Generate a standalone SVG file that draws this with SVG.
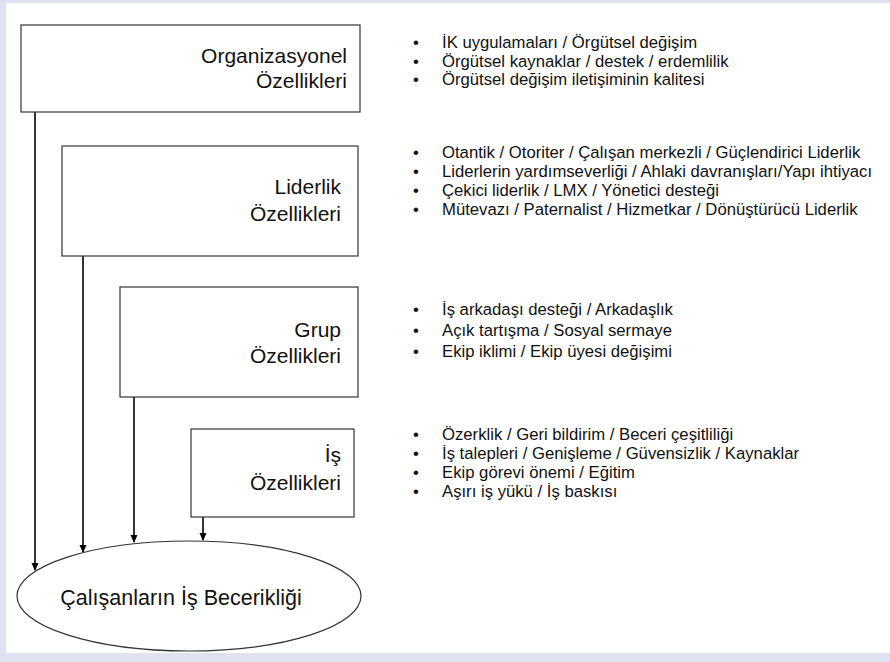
<svg xmlns="http://www.w3.org/2000/svg" width="890" height="662" viewBox="0 0 890 662">
<style>
.box{fill:#fff;stroke:#333;stroke-width:1.2}
.lbl{font-family:"Liberation Sans",Arial,sans-serif;font-size:21px;fill:#111;text-anchor:end}
.blt{font-family:"Liberation Sans",Arial,sans-serif;font-size:16.7px;fill:#111}
.con{stroke:#000;stroke-width:1.6;fill:none;marker-end:url(#ah)}
</style>
<defs>
<marker id="ah" markerWidth="8" markerHeight="8" refX="7" refY="4" orient="auto" markerUnits="userSpaceOnUse">
<path d="M0,0.5 L8,4 L0,7.5 Z" fill="#000"/>
</marker>
</defs>
<rect x="0" y="0" width="890" height="662" fill="#dfe3f1"/>
<rect x="6" y="3" width="884" height="650" fill="#fff"/>
<g id="connectors">
<line class="con" x1="35" y1="112" x2="35" y2="570"/>
<line class="con" x1="83" y1="256" x2="83" y2="552"/>
<line class="con" x1="134" y1="397" x2="134" y2="542"/>
<line class="con" x1="203" y1="517" x2="203" y2="540"/>
</g>
<g id="org">
<rect class="box" x="21" y="25" width="339" height="87"/>
<text class="lbl" x="347" y="63">Organizasyonel</text>
<text class="lbl" x="347" y="88">Özellikleri</text>
</g>
<g id="lider">
<rect class="box" x="62" y="146" width="296" height="110"/>
<text class="lbl" x="341" y="194">Liderlik</text>
<text class="lbl" x="341" y="221">Özellikleri</text>
</g>
<g id="grup">
<rect class="box" x="120" y="287" width="238" height="110"/>
<text class="lbl" x="341" y="337">Grup</text>
<text class="lbl" x="341" y="363">Özellikleri</text>
</g>
<g id="is">
<rect class="box" x="191" y="429" width="163" height="88"/>
<text class="lbl" x="341" y="462">İş</text>
<text class="lbl" x="341" y="490">Özellikleri</text>
</g>
<g id="ellipse">
<ellipse cx="189" cy="596" rx="172" ry="55" fill="#fff" stroke="#333" stroke-width="1.2"/>
<text class="lbl" x="181" y="605" style="text-anchor:middle;font-size:21.5px">Çalışanların İş Becerikliği</text>
</g>
<g id="list-org" class="blt">
<text x="413" y="48">•</text><text x="442" y="48">İK uygulamaları / Örgütsel değişim</text>
<text x="413" y="66.5">•</text><text x="442" y="66.5">Örgütsel kaynaklar / destek / erdemlilik</text>
<text x="413" y="85">•</text><text x="442" y="85">Örgütsel değişim iletişiminin kalitesi</text>
</g>
<g id="list-lider" class="blt">
<text x="413" y="158">•</text><text x="442" y="158">Otantik / Otoriter / Çalışan merkezli / Güçlendirici Liderlik</text>
<text x="413" y="177">•</text><text x="442" y="177">Liderlerin yardımseverliği / Ahlaki davranışları/Yapı ihtiyacı</text>
<text x="413" y="196">•</text><text x="442" y="196">Çekici liderlik / LMX / Yönetici desteği</text>
<text x="413" y="215">•</text><text x="442" y="215">Mütevazı / Paternalist / Hizmetkar / Dönüştürücü Liderlik</text>
</g>
<g id="list-grup" class="blt">
<text x="413" y="315">•</text><text x="442" y="315">İş arkadaşı desteği / Arkadaşlık</text>
<text x="413" y="336">•</text><text x="442" y="336">Açık tartışma / Sosyal sermaye</text>
<text x="413" y="357">•</text><text x="442" y="357">Ekip iklimi / Ekip üyesi değişimi</text>
</g>
<g id="list-is" class="blt">
<text x="413" y="440">•</text><text x="442" y="440">Özerklik / Geri bildirim / Beceri çeşitliliği</text>
<text x="413" y="459">•</text><text x="442" y="459">İş talepleri / Genişleme / Güvensizlik / Kaynaklar</text>
<text x="413" y="478">•</text><text x="442" y="478">Ekip görevi önemi / Eğitim</text>
<text x="413" y="497">•</text><text x="442" y="497">Aşırı iş yükü / İş baskısı</text>
</g>
</svg>
